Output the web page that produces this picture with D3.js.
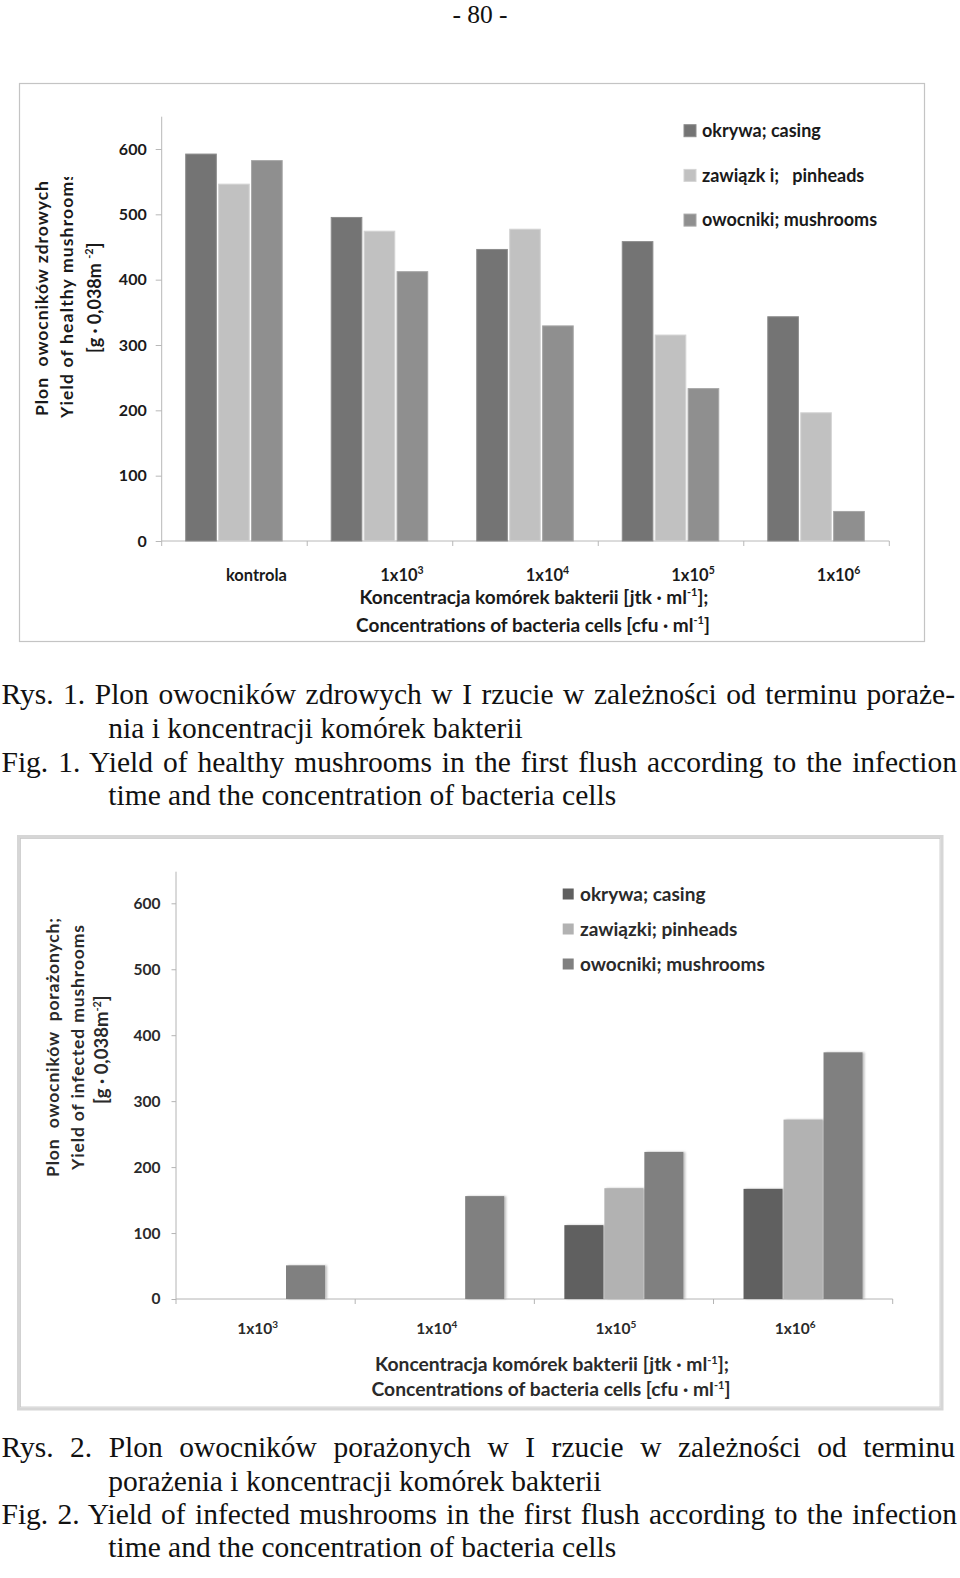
<!DOCTYPE html>
<html><head><meta charset="utf-8">
<script src="https://cdn.jsdelivr.net/npm/d3@7"></script>
<style>
html,body{margin:0;padding:0;background:#fff;}
svg{display:block;}
</style></head>
<body>
<svg id="page" width="960" height="1578"></svg>
<script>
// ---------- DATA ----------
const seriesNames1 = ["okrywa; casing", "zawiązk i;   pinheads", "owocniki; mushrooms"];
const categories1 = ["kontrola", "1x10^3", "1x10^4", "1x10^5", "1x10^6"];
const casing1    = [593, 496, 447, 459, 344];
const pinheads1  = [547, 475, 478, 316, 197];
const mushrooms1 = [583, 413, 330, 234, 46];

const seriesNames2 = ["okrywa; casing", "zawiązki; pinheads", "owocniki; mushrooms"];
const categories2 = ["1x10^3", "1x10^4", "1x10^5", "1x10^6"];
const casing2    = [0, 0, 112, 167];
const pinheads2  = [0, 0, 168, 272];
const mushrooms2 = [51, 156, 223, 374];

const yTicks = [0, 100, 200, 300, 400, 500, 600];

const caption1 = [
  "Rys. 1. Plon owocników zdrowych w I rzucie w zależności od terminu poraże-",
  "nia i koncentracji komórek bakterii",
  "Fig. 1. Yield of healthy mushrooms in the first flush according to the infection",
  "time and the concentration of bacteria cells"
];
const caption2 = [
  "Rys. 2. Plon owocników porażonych w I rzucie w zależności od terminu",
  "porażenia i koncentracji komórek bakterii",
  "Fig. 2. Yield of infected mushrooms in the first flush according to the infection",
  "time and the concentration of bacteria cells"
];

// ---------- PAGE ----------
const svg = d3.select("#page");
const serif = "'Liberation Serif','Times New Roman',serif";
const sans = "Lato,'Open Sans',sans-serif";

svg.append("text").attr("x", 480).attr("y", 23).attr("text-anchor", "middle")
  .attr("font-family", serif).attr("font-size", 25.5).attr("fill", "#111")
  .text("- 80 -");

const defs = svg.append("defs");
defs.append("clipPath").attr("id", "yclip").append("rect")
  .attr("x", 0).attr("y", 177).attr("width", 160).attr("height", 300);
const sh = defs.append("filter").attr("id", "shadow").attr("x", "-20%").attr("y", "-5%").attr("width", "150%").attr("height", "110%");
sh.append("feDropShadow").attr("dx", 2).attr("dy", 0).attr("stdDeviation", 1.2)
  .attr("flood-color", "#888").attr("flood-opacity", 0.55);

function catLabel(sel, label, supSize, shift) {
  const parts = label.split("^");
  sel.append("tspan").text(parts[0]);
  if (parts[1]) sel.append("tspan").attr("font-size", supSize).attr("dy", -shift).text(parts[1]);
}

function captions(lines, baselines, indentX, justifyTo) {
  lines.forEach((t, i) => {
    const x = (i % 2 === 0) ? 1.5 : indentX;
    const el = svg.append("text").attr("x", x).attr("y", baselines[i])
      .attr("font-family", serif).attr("font-size", 29.5).attr("fill", "#111")
      .style("white-space", "pre").text(t);
    if (justifyTo[i]) {
      const w = el.node().getComputedTextLength();
      const spaces = (t.match(/ /g) || []).length;
      el.attr("word-spacing", (justifyTo[i] - x - w) / spaces);
    }
  });
}

// ================= CHART 1 =================
(function () {
  const g = svg.append("g");
  const ink = "#1a1a1a";
  g.append("rect").attr("x", 19.5).attr("y", 83.5).attr("width", 905).attr("height", 558)
    .attr("fill", "none").attr("stroke", "#c4c4c4").attr("stroke-width", 1.2);

  const x0 = 161.7, x1 = 889.3, yBase = 541;
  const x = d3.scaleBand().domain(categories1).range([x0, x1]).paddingInner(0).paddingOuter(0);
  const xs = d3.scaleBand().domain([0, 1, 2]).range([23.5, 121]).paddingInner(0.04);
  const y = d3.scaleLinear().domain([0, 600]).range([yBase, 149]);

  const colors = ["#747474", "#c1c1c1", "#8f8f8f"];
  const strokes = ["#8c8c8c", "#d4d4d4", "#a6a6a6"];
  const data = [casing1, pinheads1, mushrooms1];

  g.append("line").attr("x1", x0).attr("x2", x0).attr("y1", 116.7).attr("y2", yBase).attr("stroke", "#b8b8b8");
  const yAxis = g.append("g").attr("transform", `translate(${x0},0)`)
    .call(d3.axisLeft(y).tickValues(yTicks).tickSize(6).tickPadding(9).tickFormat(d3.format("d")));
  yAxis.select(".domain").remove();
  yAxis.selectAll(".tick line").attr("stroke", "#b8b8b8");
  yAxis.selectAll(".tick text").attr("font-family", sans).attr("font-weight", 700)
    .attr("font-size", 16).attr("fill", ink);

  g.append("line").attr("x1", x0).attr("x2", x1).attr("y1", yBase).attr("y2", yBase).attr("stroke", "#b8b8b8");
  g.selectAll(".xt").data(categories1.concat(["_end"])).enter().append("line")
    .attr("x1", d => d === "_end" ? x1 : x(d)).attr("x2", d => d === "_end" ? x1 : x(d))
    .attr("y1", yBase).attr("y2", yBase + 5).attr("stroke", "#b8b8b8");

  data.forEach((vals, si) => {
    g.selectAll(".b" + si).data(vals).enter().append("rect")
      .attr("x", (d, i) => x(categories1[i]) + xs(si) + 0.5)
      .attr("width", xs.bandwidth() - 1)
      .attr("y", d => y(d) + 0.5)
      .attr("height", d => yBase - y(d) - 0.5)
      .attr("fill", colors[si]).attr("stroke", strokes[si]).attr("stroke-width", 1);
  });

  categories1.forEach(c => {
    const t = g.append("text").attr("x", x(c) + x.bandwidth() / 2 + 22).attr("y", 581)
      .attr("text-anchor", "middle").attr("font-family", sans).attr("font-weight", 700)
      .attr("font-size", 16.5).attr("fill", ink);
    catLabel(t, c, 10.5, 7);
  });

  const t1 = g.append("text").attr("x", 534).attr("y", 604).attr("text-anchor", "middle")
    .attr("font-family", sans).attr("font-weight", 700).attr("font-size", 19).attr("fill", ink);
  t1.append("tspan").text("Koncentracja komórek bakterii [jtk · ml");
  t1.append("tspan").attr("font-size", 11).attr("dy", -8).text("-1");
  t1.append("tspan").attr("dy", 8).text("];");
  const t2 = g.append("text").attr("x", 533).attr("y", 632).attr("text-anchor", "middle")
    .attr("font-family", sans).attr("font-weight", 700).attr("font-size", 19).attr("fill", ink);
  t2.append("tspan").text("Concentrations of bacteria cells [cfu · ml");
  t2.append("tspan").attr("font-size", 11).attr("dy", -8).text("-1");
  t2.append("tspan").attr("dy", 8).text("]");

  const yt = (cx, startY, txt, len) => g.append("text")
    .attr("transform", `translate(${cx},${startY}) rotate(-90)`)
    .attr("dy", "0.36em").attr("font-family", sans).attr("font-weight", 700)
    .attr("font-size", 17.5).attr("fill", ink).style("white-space", "pre")
    .attr("textLength", len).attr("lengthAdjust", "spacing").text(txt);
  yt(41.7, 416, "Plon  owocników zdrowych", 235);
  const wrap = g.append("g").attr("clip-path", "url(#yclip)");
  wrap.append("text").attr("transform", `translate(66.7,418) rotate(-90)`)
    .attr("dy", "0.36em").attr("font-family", sans).attr("font-weight", 700)
    .attr("font-size", 17.5).attr("fill", ink).attr("textLength", 245).attr("lengthAdjust", "spacing")
    .text("Yield of healthy mushrooms");
  const y3 = g.append("text").attr("transform", `translate(95,353) rotate(-90)`)
    .attr("dy", "0.36em").attr("font-family", sans).attr("font-weight", 700)
    .attr("font-size", 18).attr("fill", ink).style("white-space", "pre");
  y3.append("tspan").text("[g · 0,038m ");
  y3.append("tspan").attr("font-size", 11).attr("dy", -8).text("-2");
  y3.append("tspan").attr("dy", 8).text("]");

  seriesNames1.forEach((n, i) => {
    const cy = 130.7 + i * 44.7;
    g.append("rect").attr("x", 684).attr("y", cy - 6).attr("width", 12).attr("height", 12)
      .attr("fill", colors[i]).attr("stroke", strokes[i]);
    g.append("text").attr("x", 702).attr("y", cy).attr("dy", "0.35em")
      .attr("font-family", sans).attr("font-weight", 700).attr("font-size", 18)
      .attr("fill", ink).style("white-space", "pre").text(n);
  });
})();

captions(caption1, [704, 738, 771.7, 805], 108.3, [955, 0, 957, 0]);

// ================= CHART 2 =================
(function () {
  const g = svg.append("g");
  const ink = "#2a2a2a";
  g.append("rect").attr("x", 18.5).attr("y", 836.5).attr("width", 923.5).attr("height", 572.5)
    .attr("fill", "none").attr("stroke", "#d6d6d6").attr("stroke-width", 3);
  g.append("rect").attr("x", 20.5).attr("y", 838.5).attr("width", 919.5).attr("height", 568.5)
    .attr("fill", "none").attr("stroke", "#c6c6c6").attr("stroke-width", 0.8);

  const x0 = 176, x1 = 892.7, yBase = 1299;
  const x = d3.scaleBand().domain(categories2).range([x0, x1]).paddingInner(0).paddingOuter(0);
  const xs = d3.scaleBand().domain([0, 1, 2]).range([30, 149]).paddingInner(0.025);
  const y = d3.scaleLinear().domain([0, 600]).range([yBase, 903.3]);

  const colors = ["#606060", "#b2b2b2", "#808080"];
  const data = [casing2, pinheads2, mushrooms2];

  g.append("line").attr("x1", x0).attr("x2", x0).attr("y1", 871.7).attr("y2", yBase).attr("stroke", "#b4b4b4");
  const yAxis = g.append("g").attr("transform", `translate(${x0},0)`)
    .call(d3.axisLeft(y).tickValues(yTicks).tickSize(4.5).tickPadding(11).tickFormat(d3.format("d")));
  yAxis.select(".domain").remove();
  yAxis.selectAll(".tick line").attr("stroke", "#b4b4b4");
  yAxis.selectAll(".tick text").attr("font-family", sans).attr("font-weight", 700)
    .attr("font-size", 15.5).attr("fill", ink);

  g.append("line").attr("x1", x0).attr("x2", x1).attr("y1", yBase).attr("y2", yBase).attr("stroke", "#b4b4b4");
  g.selectAll(".xt").data(categories2.concat(["_end"])).enter().append("line")
    .attr("x1", d => d === "_end" ? x1 : x(d)).attr("x2", d => d === "_end" ? x1 : x(d))
    .attr("y1", yBase).attr("y2", yBase + 5).attr("stroke", "#b4b4b4");

  data.forEach((vals, si) => {
    g.selectAll(".b" + si).data(vals.map((v, i) => ({ v, i })).filter(d => d.v > 0)).enter().append("rect")
      .attr("x", d => x(categories2[d.i]) + xs(si))
      .attr("width", xs.bandwidth())
      .attr("y", d => y(d.v))
      .attr("height", d => yBase - y(d.v))
      .attr("fill", colors[si]).attr("filter", "url(#shadow)");
  });

  categories2.forEach(c => {
    const t = g.append("text").attr("x", x(c) + x.bandwidth() / 2 - 8).attr("y", 1333.5)
      .attr("text-anchor", "middle").attr("font-family", sans).attr("font-weight", 700)
      .attr("font-size", 15.5).attr("fill", ink);
    catLabel(t, c, 10, 6);
  });

  const t1 = g.append("text").attr("x", 552).attr("y", 1371).attr("text-anchor", "middle")
    .attr("font-family", sans).attr("font-weight", 700).attr("font-size", 19.3).attr("fill", ink);
  t1.append("tspan").text("Koncentracja komórek bakterii [jtk · ml");
  t1.append("tspan").attr("font-size", 11).attr("dy", -7).text("-1");
  t1.append("tspan").attr("dy", 7).text("];");
  const t2 = g.append("text").attr("x", 551).attr("y", 1396).attr("text-anchor", "middle")
    .attr("font-family", sans).attr("font-weight", 700).attr("font-size", 19.3).attr("fill", ink);
  t2.append("tspan").text("Concentrations of bacteria cells [cfu · ml");
  t2.append("tspan").attr("font-size", 11).attr("dy", -7).text("-1");
  t2.append("tspan").attr("dy", 7).text("]");

  const yt = (cx, startY, txt, len) => g.append("text")
    .attr("transform", `translate(${cx},${startY}) rotate(-90)`)
    .attr("dy", "0.36em").attr("font-family", sans).attr("font-weight", 700)
    .attr("font-size", 17.5).attr("fill", ink).style("white-space", "pre")
    .attr("textLength", len).attr("lengthAdjust", "spacing").text(txt);
  yt(53, 1177, "Plon  owocników  porażonych;", 259);
  yt(78, 1170, "Yield of infected mushrooms", 245);
  const y3 = g.append("text").attr("transform", `translate(101.7,1104) rotate(-90)`)
    .attr("dy", "0.36em").attr("font-family", sans).attr("font-weight", 700)
    .attr("font-size", 18.5).attr("fill", ink).style("white-space", "pre");
  y3.append("tspan").text("[g · 0,038m");
  y3.append("tspan").attr("font-size", 11).attr("dy", -7).text("-2");
  y3.append("tspan").attr("dy", 7).text("]");

  seriesNames2.forEach((n, i) => {
    const cy = 894 + i * 35;
    g.append("rect").attr("x", 562.7).attr("y", cy - 5.5).attr("width", 11).attr("height", 11)
      .attr("fill", colors[i]);
    g.append("text").attr("x", 580).attr("y", cy).attr("dy", "0.35em")
      .attr("font-family", sans).attr("font-weight", 700).attr("font-size", 19)
      .attr("fill", ink).style("white-space", "pre").text(n);
  });
})();

captions(caption2, [1457, 1491, 1524, 1557.3], 108.3, [955, 0, 957, 0]);
</script>
</body></html>
